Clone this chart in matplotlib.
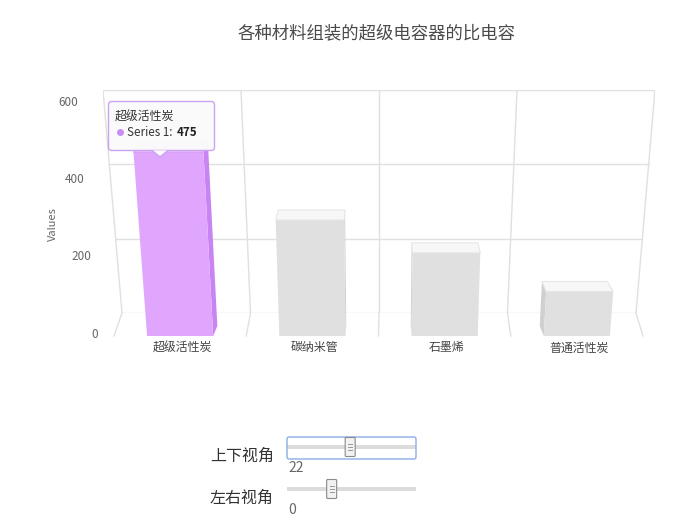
import matplotlib
matplotlib.use('Agg')
import matplotlib.pyplot as plt
from matplotlib.patches import Polygon, Rectangle, FancyBboxPatch
import matplotlib.transforms as mtransforms

plt.rcParams['font.family'] = ['Noto Sans CJK SC', 'DejaVu Sans']

# ---------------- data ----------------
title = '各种材料组装的超级电容器的比电容'
categories = ['超级活性炭', '碳纳米管', '石墨烯', '普通活性炭']
values = [475, 300, 215, 115]
series_name = 'Series 1'
y_ticks = [0, 200, 400, 600]
y_title = 'Values'
highlight_index = 0
slider_labels = ['上下视角', '左右视角']
slider_values = [22, 0]
slider_ranges = [(0, 45), (-15, 30)]

# ---------------- figure ----------------
W, H = 699, 528
fig = plt.figure(figsize=(W / 100, H / 100), dpi=100)


def frac_rect(x0, y0, x1, y1):
    return [x0 / W, 1 - y1 / H, (x1 - x0) / W, (y1 - y0) / H]


ymax = y_ticks[-1]
n = len(categories)
xc = (n - 1) / 2.0

grid_c = '#e0e0e0'

# back wall axes
axb = fig.add_axes(frac_rect(103, 90, 655, 313))
axb.set_xlim(-0.5, n - 0.5)
axb.set_ylim(0, ymax)
axb.axis('off')

# front plane axes
ax = fig.add_axes(frac_rect(114, 104, 643, 336))
ax.set_xlim(-0.5, n - 0.5)
ax.set_ylim(0, ymax)
ax.axis('off')

sb = 257.0 / 276.0          # back wall bottom/top width ratio
kf = 1.0 / sb - 1.0         # front plane widening with height
kd = 0.975                  # depth shrink toward centre
dv = 26                     # depth offset in value units


def back_x(b, v):
    return xc + (b - xc) * (sb + (1 - sb) * v / ymax)


def fx(b, v):
    return xc + (b - xc) * (1 + kf * v / ymax)


def bx(b, v):
    return xc + (fx(b, v) - xc) * kd


# back wall grid
for v in y_ticks:
    axb.plot([back_x(-0.5, v), back_x(n - 0.5, v)], [v, v], color=grid_c, lw=1, zorder=1)
bounds = [i - 0.5 for i in range(n + 1)]
for b in bounds:
    axb.plot([back_x(b, 0), back_x(b, ymax)], [0, ymax], color=grid_c, lw=1, zorder=1)
    # floor line to front plane
    p = ax.transData.transform((b, 0))
    q = axb.transData.inverted().transform(p)
    axb.plot([back_x(b, 0), q[0]], [0, q[1]], color=grid_c, lw=1, clip_on=False, zorder=1)

# bars
for i, v in enumerate(values):
    if i == highlight_index:
        c_front, c_side, c_top, c_edge = '#e0a6fe', '#c884f2', '#ecc4ff', '#d89cf8'
    else:
        c_front, c_side, c_top, c_edge = '#e0e0e0', '#d0d0d0', '#f7f7f7', '#e6e6e6'
    xl, xr = i - 0.25, i + 0.25
    e = xr if i < xc else xl
    side = [(fx(e, 0), 0), (fx(e, v), v), (bx(e, v), v + dv), (bx(e, 0), dv)]
    front = [(fx(xl, 0), 0), (fx(xr, 0), 0), (fx(xr, v), v), (fx(xl, v), v)]
    top = [(fx(xl, v), v), (fx(xr, v), v), (bx(xr, v), v + dv), (bx(xl, v), v + dv)]
    ax.add_patch(Polygon(side, closed=True, fc=c_side, ec='none', zorder=3, clip_on=False))
    ax.add_patch(Polygon(front, closed=True, fc=c_front, ec='none', zorder=4, clip_on=False))
    ax.add_patch(Polygon(top, closed=True, fc=c_top, ec=c_edge, lw=0.8, zorder=5, clip_on=False))

# y tick labels (perspective)
for v in y_ticks:
    tr = mtransforms.offset_copy(ax.transData, fig=fig, x=-16, y=2, units='dots')
    ax.text(fx(-0.5, v), v, str(v), transform=tr, ha='right', va='center',
            fontsize=8.5, color='#666666', clip_on=False)

# x labels
for i, c in enumerate(categories):
    tr = mtransforms.offset_copy(ax.transData, fig=fig, x=2, y=-12, units='dots')
    ax.text(fx(i, 0), 0, c, transform=tr, ha='center', va='center',
            fontsize=8.6, color='#444444', clip_on=False)

# ---------------- overlay (pixel coords) ----------------
ui = fig.add_axes([0, 0, 1, 1])
ui.set_xlim(0, W)
ui.set_ylim(H, 0)
ui.axis('off')
ui.patch.set_alpha(0)

ui.text(377, 33, title, ha='center', va='center', fontsize=12.5, color='#4a4a4a')
ui.text(53, 224, y_title, ha='center', va='center', rotation=90, fontsize=8, color='#666666')

# tooltip
tip_c = '#c9a0f2'
ui.add_patch(FancyBboxPatch((108.5, 101.5), 106, 49, boxstyle='round,pad=0,rounding_size=3',
                            fc='#fafafa', ec=tip_c, lw=1, alpha=0.97))
ui.add_patch(Polygon([(152, 150.3), (160, 157), (168, 150.3)], closed=True,
                     fc='#fafafa', ec='none'))
ui.plot([152, 160, 168], [150.5, 157, 150.5], color=tip_c, lw=1)
ui.text(115, 117, categories[highlight_index], ha='left', va='center', fontsize=8.6, color='#333333')
ui.plot([120], [132], marker='o', ms=5, color='#c88cf5', mec='none')
t_series = ui.text(127, 132, series_name + ':', ha='left', va='center', fontsize=8.4, color='#333333')
ui.annotate(str(values[highlight_index]), xy=(1, 0.5), xycoords=t_series,
            xytext=(3, 0), textcoords='offset points', ha='left', va='center',
            fontsize=8.4, color='#222222', fontweight='bold')

# sliders
track_y = [447, 489]
label_y = [456, 498]
for k in range(2):
    y = track_y[k]
    ui.text(274, label_y[k], slider_labels[k], ha='right', va='center', fontsize=11.5, color='#333333')
    ui.add_patch(Rectangle((287, y - 2), 129, 4, fc='#dcdcdc', ec='none'))
    if k == 0:
        ui.add_patch(FancyBboxPatch((287, 437), 129, 22, boxstyle='round,pad=0,rounding_size=2',
                                    fc='none', ec='#88aee6', lw=1))
    lo, hi = slider_ranges[k]
    frac = (slider_values[k] - lo) / (hi - lo)
    cx = 292 + frac * 119
    ui.add_patch(FancyBboxPatch((cx - 5, y - 9.5), 10, 19, boxstyle='round,pad=0,rounding_size=1',
                                fc='#f2f2f2', ec='#8a8a8a', lw=0.8))
    for dy in (-3, 0, 3):
        ui.plot([cx - 2, cx + 2], [y + dy, y + dy], color='#999999', lw=0.7)
    ui.text(288, y + 21, str(slider_values[k]), ha='left', va='center', fontsize=10, color='#666666')

fig.savefig('out.png', dpi=100)
